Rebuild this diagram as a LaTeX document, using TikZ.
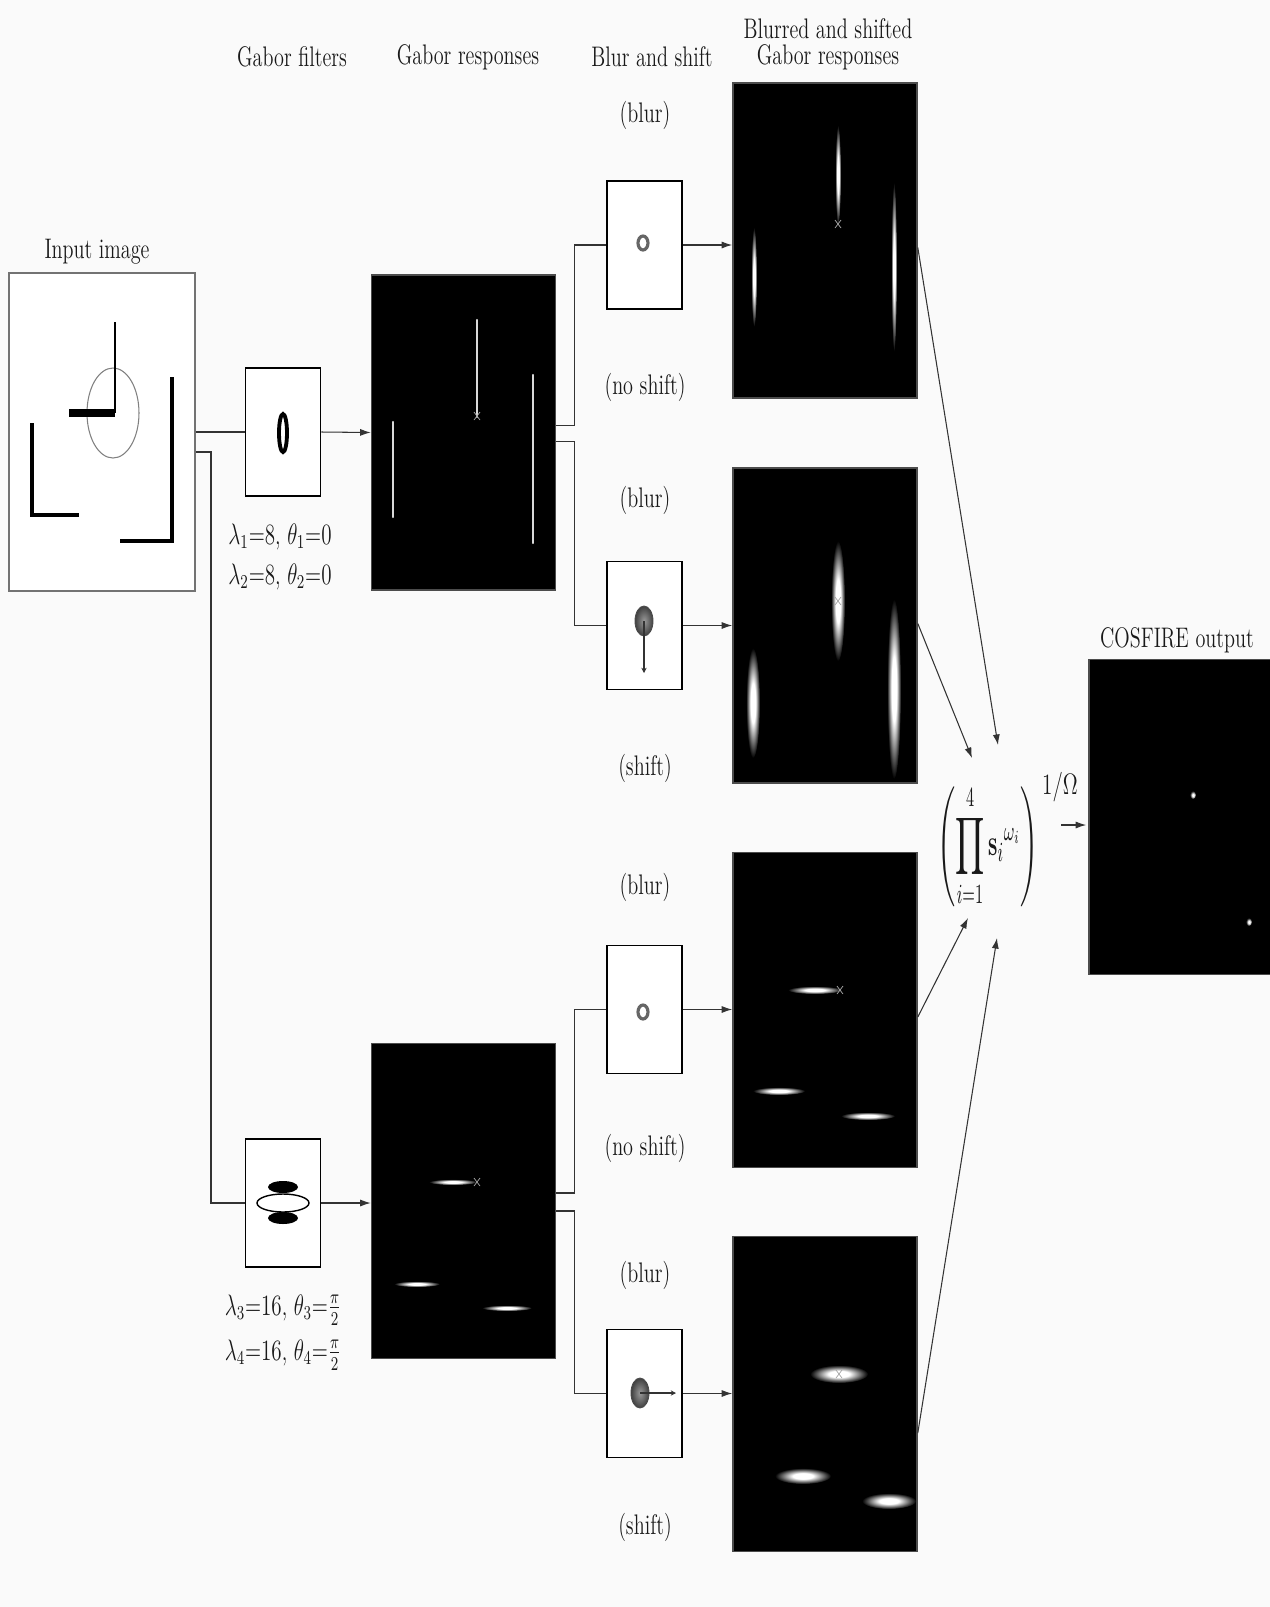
\documentclass[tikz,border=0pt]{standalone}
\usepackage{amsmath,amssymb}
\usepackage{graphicx}
\usetikzlibrary{arrows.meta,calc,positioning}
\pgfdeclareradialshading{glowshade}{\pgfpoint{0bp}{0bp}}{color(0bp)=(white); color(9bp)=(white); color(25bp)=(black); color(50bp)=(black)}
\newcommand{\tall}[1]{\scalebox{1}[1.4]{#1}}
\tikzset{lbl/.style={font=\fontsize{11.5}{13}\selectfont,text=black!90,inner sep=1pt},
         imgbox/.style={draw=black!70,line width=0.9pt,fill=black,minimum width=184*0.02cm,minimum height=315*0.02cm,inner sep=0pt},
         fltbox/.style={draw,line width=0.9pt,fill=white,minimum width=75*0.02cm,minimum height=128*0.02cm,inner sep=0pt},
         wire/.style={line width=0.6pt,black!80},
         arr/.style={wire,-{Latex[length=6pt,width=4pt]}},
         sharp/.style={white!85!black,line width=1.3pt,line cap=round},
         glow/.style={shading=glowshade},
         ring/.style={draw=black!60,line width=1.8pt},
         blob/.style={inner color=black!40,outer color=black!75,draw=black!70,line width=0.5pt},
         cross/.style={black!35!white,line width=0.4pt}
         }
\begin{document}
\begin{tikzpicture}[x=0.02cm,y=-0.02cm]
\useasboundingbox[fill=black!2] (0,0) rectangle (1270,1607);

% column headers
\node[lbl] (hfilt) at (292,57) {\tall{Gabor filters}};
\node[lbl] (hresp) at (468,57) {\tall{Gabor responses}};
\node[lbl] (hbs) at (652,57) {\tall{Blur and shift}};
\node[lbl] (hbsr) at (828,57) {\tall{Gabor responses}};
\node[lbl,above=1pt of hbsr] (hbsrtop) {\tall{Blurred and shifted}};

% input image
\node[draw=black!55,line width=1pt,fill=white,minimum width=186*0.02cm,minimum height=318*0.02cm] (input) at (102,432) {};
\node[lbl] (inlab) at (97,252) {\tall{Input image}};
\draw[black!50,line width=0.6pt] (113,413) ellipse [x radius=26, y radius=45];
\draw[line width=1.6pt] (115,322) -- (115,413);
\draw[line width=5pt] (69,413) -- (115,413);
\draw[line width=1.8pt] (32,423) -- (32,515) -- (79,515);
\draw[line width=2.2pt] (120,541) -- (172,541) -- (172,377);

% Gabor filters
\node[fltbox] (filt1) at (283,432) {};
\draw[line width=2.2pt,fill=white] (283,433) ellipse [x radius=4, y radius=19];
\node[lbl] (par1) at (280,537) {\tall{$\lambda_1{=}8$, $\theta_1{=}0$}};
\node[lbl] (par2) at (280,577) {\tall{$\lambda_2{=}8$, $\theta_2{=}0$}};

\node[fltbox] (filt2) at (283,1203) {};
\fill (283,1187) ellipse [x radius=15, y radius=6];
\fill (283,1218) ellipse [x radius=15, y radius=6];
\draw[fill=white,line width=0.8pt] (283,1203) ellipse [x radius=26, y radius=9];
\node[lbl] (par3) at (283,1310) {\tall{$\lambda_3{=}16$, $\theta_3{=}\frac{\pi}{2}$}};
\node[lbl] (par4) at (283,1355) {\tall{$\lambda_4{=}16$, $\theta_4{=}\frac{\pi}{2}$}};

% Gabor responses
\node[imgbox] (resp1) at (463.5,432.5) {};
\node[imgbox] (resp2) at (463.5,1201) {};
\foreach \x/\a/\b in {393/422/517, 477/320/417, 533/375/543}
  \draw[sharp] (\x,\a) -- (\x,\b);
\foreach \cx/\cy/\w in {453/1182/24, 417/1284/23, 507/1308/25}
  \shade[glow] (\cx,\cy) ellipse [x radius=\w, y radius=3];

% blur and shift
\foreach \n/\y/\yr in {1/245/240.5, 2/625.5/625.5, 3/1009.5/1010, 4/1393.5/1394} {
  \node[fltbox] (blur\n) at (644.5,\y) {};
  \node[imgbox] (bsr\n) at (825,\yr) {};
  \draw[arr] (blur\n.east) -- (blur\n.east -| bsr\n.west);
}
\foreach \n/\ya/\yb/\lab in {1/115/387/(no shift), 2/500/768/(shift), 3/887/1148/(no shift), 4/1275/1527/(shift)} {
  \node[lbl] (blurtxt\n) at (645,\ya) {\tall{(blur)}};
  \node[lbl] (shifttxt\n) at (645,\yb) {\tall{\lab}};
}
\draw[ring] (643,243) ellipse [x radius=5, y radius=7];
\draw[ring] (643,1012) ellipse [x radius=5, y radius=7];
\shade[blob] (644,621) ellipse [x radius=9, y radius=15];
\draw[wire,-{Stealth[length=3pt,width=3pt]}] (644,621) -- (644,673);
\shade[blob] (640,1393) ellipse [x radius=9, y radius=15];
\draw[wire,-{Stealth[length=3pt,width=3pt]}] (640,1393) -- (676,1393);

% blurred and shifted responses
\foreach \cx/\cy/\rx/\ry in {754/277/3/50, 838/175/3/50, 894/267/3/85,
                             838/601/7/60, 753/703/7/55, 894/689/7/90,
                             815/990/27/4, 779/1091/26/4, 868/1116/27/4,
                             839/1374/29/9, 803/1476/28/8, 889/1501/27/8}
  \shade[glow] (\cx,\cy) ellipse [x radius=\rx, y radius=\ry];
\foreach \cx/\cy in {477/416, 838/224, 838/601, 477/1182, 840/990, 839/1374}
  \draw[cross] (\cx-3,\cy-4) -- (\cx+3,\cy+4) (\cx+3,\cy-4) -- (\cx-3,\cy+4);

% connections
\draw[wire] (input.east) -- (filt1.west);
\draw[arr] (filt1.east) -- (resp1.west);
\coordinate (tap) at (211,452);
\draw[wire] ($(input.east)+(0,20)$) -- (tap) |- (filt2.west);
\draw[arr] (filt2.east) -- (filt2.east -| resp2.west);
\draw[wire] ($(resp1.east)+(0,-7)$) -- ++(18,0) |- (blur1.west);
\draw[wire] ($(resp1.east)+(0,9)$) -- ++(18,0) |- (blur2.west);
\draw[wire] ($(resp2.east)+(0,-8)$) -- ++(18,0) |- (blur3.west);
\draw[wire] ($(resp2.east)+(0,10)$) -- ++(18,0) |- (blur4.west);

% combination and output
\node[lbl,font=\fontsize{13}{15}\selectfont] (prod) at (988,846) {\scalebox{1}[1.75]{$\displaystyle\left(\prod_{i=1}^{4}{\mathbf{s}_i}^{\omega_i}\right)$}};
\draw[arr] ($(bsr1.east)+(0,7)$) -- ($(prod)+(10,-101)$);
\draw[arr] ($(bsr2.east)+(0,-2)$) -- ($(prod)+(-16,-88)$);
\draw[arr] ($(bsr3.east)+(0,7)$) -- ($(prod)+(-20,72)$);
\draw[arr] ($(bsr4.east)+(0,39)$) -- ($(prod)+(9,92)$);

\node[imgbox] (cosout) at (1181,817) {};
\node[lbl] (outlab) at (1177,640) {\tall{COSFIRE output}};
\shade[glow] (1193,795) ellipse [x radius=3, y radius=4];
\shade[glow] (1249,922) ellipse [x radius=3, y radius=4];
\node[lbl] (omega) at (1060,787) {\tall{$1/\Omega$}};
\coordinate (outin) at ($(cosout.west)+(-27,8)$);
\draw[arr] (outin) -- ($(cosout.west)+(-2,8)$);
\end{tikzpicture}
\end{document}
